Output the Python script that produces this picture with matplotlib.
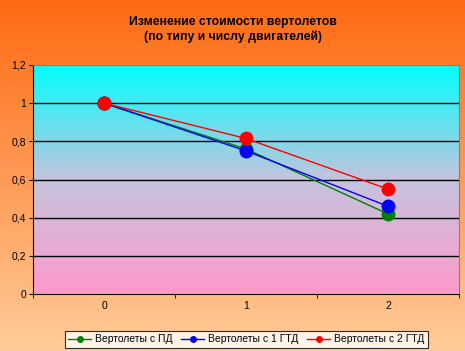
import matplotlib
matplotlib.use("Agg")
import matplotlib.pyplot as plt
import numpy as np
from matplotlib.colors import LinearSegmentedColormap

# Data
categories = [0, 1, 2]
piston = [1.0, 0.76, 0.42]      # Вертолеты с ПД
one_gtd = [1.0, 0.75, 0.46]     # Вертолеты с 1 ГТД
two_gtd = [1.0, 0.815, 0.55]    # Вертолеты с 2 ГТД
series_names = ["Вертолеты с ПД", "Вертолеты с 1 ГТД", "Вертолеты с 2 ГТД"]
y_ticks = [0, 0.2, 0.4, 0.6, 0.8, 1.0, 1.2]
y_tick_labels = ["0", "0,2", "0,4", "0,6", "0,8", "1", "1,2"]

plt.rcParams["font.family"] = ["Liberation Sans", "DejaVu Sans"]

fig = plt.figure(figsize=(4.65, 3.51), dpi=100)

# figure background gradient (orange -> peach)
bg = fig.add_axes([0, 0, 1, 1], zorder=-10)
bg_cmap = LinearSegmentedColormap.from_list("bg", ["#ffcc99", "#ff9a55", "#ff6a12"])
bg.imshow(np.linspace(0, 1, 256).reshape(-1, 1), cmap=bg_cmap, aspect="auto",
          origin="lower", extent=[0, 1, 0, 1])
bg.set_axis_off()

ax = fig.add_axes([0.071, 0.162, 0.916, 0.653])
ax.patch.set_alpha(0)
pa_cmap = LinearSegmentedColormap.from_list("pa", ["#ff99cc", "#c4c4de", "#00ffff"])
ax.imshow(np.linspace(0, 1, 256).reshape(-1, 1), cmap=pa_cmap, aspect="auto",
          origin="lower", extent=[-0.5, 2.5, 0, 1.2], zorder=0)

for yv in y_ticks[1:-1]:
    ax.axhline(yv, color="black", linewidth=1.0, zorder=1)

colors = ["#008000", "#0000ff", "#ff0000"]
for vals, c, name in zip([piston, one_gtd, two_gtd], colors, series_names):
    ax.plot(categories, vals, color=c, linewidth=1.0, marker="o", markersize=10,
            markeredgewidth=0, label=name, zorder=3)

ax.set_xlim(-0.5, 2.5)
ax.set_ylim(0, 1.2)
ax.set_xticks(categories)
ax.set_xticklabels([str(c) for c in categories], fontsize=7.5)
ax.set_yticks(y_ticks)
ax.set_yticklabels(y_tick_labels, fontsize=7.5)
ax.tick_params(direction="out", length=3, width=0.8, pad=2)
ax.set_xticks([-0.5, 0.5, 1.5, 2.5], minor=True)
ax.tick_params(axis="x", which="major", length=0, pad=5)
ax.tick_params(axis="x", which="minor", length=3)
for side in ["top", "right"]:
    ax.spines[side].set_visible(True)
    ax.spines[side].set_color("#808080")
    ax.spines[side].set_linewidth(0.8)
ax.spines["left"].set_linewidth(0.8)
ax.spines["bottom"].set_linewidth(0.8)

fig.text(0.5, 0.955, "Изменение стоимости вертолетов\n(по типу и числу двигателей)",
         ha="center", va="top", fontsize=8.8, fontweight="bold", linespacing=1.3)

leg = fig.legend(loc="center", bbox_to_anchor=(0.53, 0.033), ncol=3, fontsize=7.5,
                 markerscale=0.5, handlelength=2.2, handletextpad=0.4, columnspacing=0.8,
                 frameon=True, fancybox=False, borderpad=0.3)
leg.get_frame().set_edgecolor("black")
leg.get_frame().set_linewidth(0.8)
leg.get_frame().set_facecolor("white")

fig.savefig("out.png", dpi=100)
